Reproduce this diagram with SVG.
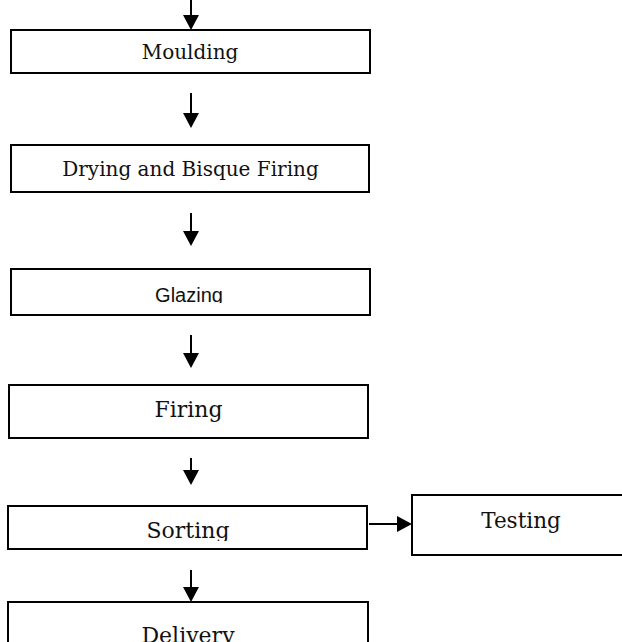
<svg xmlns="http://www.w3.org/2000/svg" width="622" height="642" viewBox="0 0 622 642">
<style>
.box{fill:#fff;stroke:#000;stroke-width:2}
.t{font-family:"DejaVu Serif",serif;fill:#111;text-anchor:middle}
.s{font-family:"Liberation Sans",sans-serif;fill:#111;text-anchor:middle}
.ln{stroke:#000;stroke-width:2;fill:none}
.hd{fill:#000}
</style>
<defs>
<clipPath id="clipG"><rect x="0" y="0" width="622" height="303"/></clipPath>
<clipPath id="clipS"><rect x="0" y="0" width="622" height="541"/></clipPath>
</defs>
<rect width="622" height="642" fill="#fff"/>
<g id="connectors">
<line class="ln" x1="191" y1="0" x2="191" y2="16"/><polygon class="hd" points="183,15 199,15 191,30"/>
<line class="ln" x1="191" y1="93" x2="191" y2="114"/><polygon class="hd" points="183,113 199,113 191,128"/>
<line class="ln" x1="191" y1="213" x2="191" y2="232"/><polygon class="hd" points="183,231 199,231 191,246"/>
<line class="ln" x1="191" y1="335" x2="191" y2="354"/><polygon class="hd" points="183,353 199,353 191,368"/>
<line class="ln" x1="191" y1="458" x2="191" y2="471"/><polygon class="hd" points="183,470 199,470 191,485"/>
<line class="ln" x1="191" y1="570" x2="191" y2="588"/><polygon class="hd" points="183,587 199,587 191,602"/>
<line class="ln" x1="369" y1="524" x2="398" y2="524"/><polygon class="hd" points="397,516 397,532 412,524"/>
</g>
<g id="moulding"><rect class="box" x="11" y="30" width="359" height="43"/><text class="t" x="190" y="59" font-size="20">Moulding</text></g>
<g id="drying"><rect class="box" x="11" y="145" width="358" height="47"/><text class="t" x="190.5" y="176" font-size="20">Drying and Bisque Firing</text></g>
<g id="glazing"><rect class="box" x="11" y="269" width="359" height="46"/><text class="s" x="189" y="302" font-size="20" clip-path="url(#clipG)">Glazing</text></g>
<g id="firing"><rect class="box" x="9" y="385" width="359" height="53"/><text class="t" x="188.5" y="417" font-size="22">Firing</text></g>
<g id="sorting"><rect class="box" x="8" y="506" width="359" height="43"/><text class="t" x="188" y="538" font-size="22" clip-path="url(#clipS)">Sorting</text></g>
<g id="testing"><rect class="box" x="412" y="495" width="215" height="60"/><text class="t" x="521" y="528" font-size="21.5">Testing</text></g>
<g id="delivery"><rect class="box" x="8" y="602" width="360" height="50"/><text class="t" x="188" y="643" font-size="22">Delivery</text></g>
</svg>
